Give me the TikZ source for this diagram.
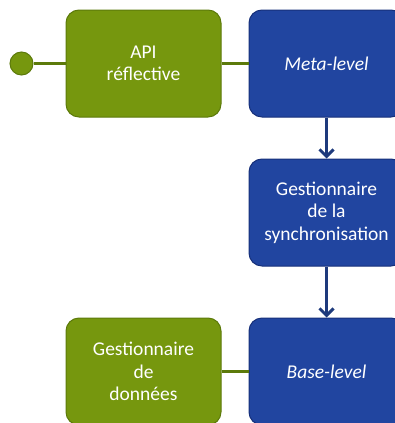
\documentclass[tikz,border=0pt]{standalone}
\usepackage{fontspec}
\setmainfont{Carlito}
\usetikzlibrary{positioning,arrows.meta}

\definecolor{boxgreen}{HTML}{76970E}
\definecolor{edgegreen}{HTML}{5C7A0A}
\definecolor{boxblue}{HTML}{2145A0}
\definecolor{edgeblue}{HTML}{17307A}
\definecolor{arrowblue}{HTML}{1E3A7C}

\tikzset{
    block/.style={rounded corners=13pt, minimum width=155pt, minimum height=107pt,
        text=white, align=center, line width=1pt,
        font=\fontsize{19.5pt}{22.5pt}\selectfont},
    greenbox/.style={block, fill=boxgreen, draw=edgegreen},
    bluebox/.style={block, fill=boxblue, draw=edgeblue},
    link/.style={edgegreen, line width=3pt},
    flow/.style={arrowblue, line width=3pt, -{Straight Barb[length=7pt, width=14pt, line width=3pt]}}
}

\begin{document}
\begin{tikzpicture}[x=1pt, y=-1pt]
    \useasboundingbox (0,0) rectangle (395,423);
    \clip (0,0) rectangle (395,423);

    % Meta level
    \node[greenbox] (api) at (143.5, 63.5) {API\\réflective};
    \node[bluebox, right=27pt of api] (meta) {\itshape Meta-level};
    \node[circle, fill=boxgreen, draw=edgegreen, line width=1pt, minimum size=23pt,
        inner sep=0pt] (port) at (21.5, 63.5) {};

    % Synchronisation
    \node[bluebox, below=41pt of meta] (sync) {Gestionnaire\\de la\\synchronisation};

    % Base level
    \node[bluebox, below=51pt of sync] (base) {\itshape Base-level};
    \node[greenbox, left=27pt of base] (data) {Gestionnaire\\de\\données};

    % Connectors
    \draw[link] (port) -- (api);
    \draw[link] (api) -- (meta);
    \draw[link] (data) -- (base);
    \draw[flow] (meta) -- (sync);
    \draw[flow] (sync) -- (base);
\end{tikzpicture}
\end{document}
